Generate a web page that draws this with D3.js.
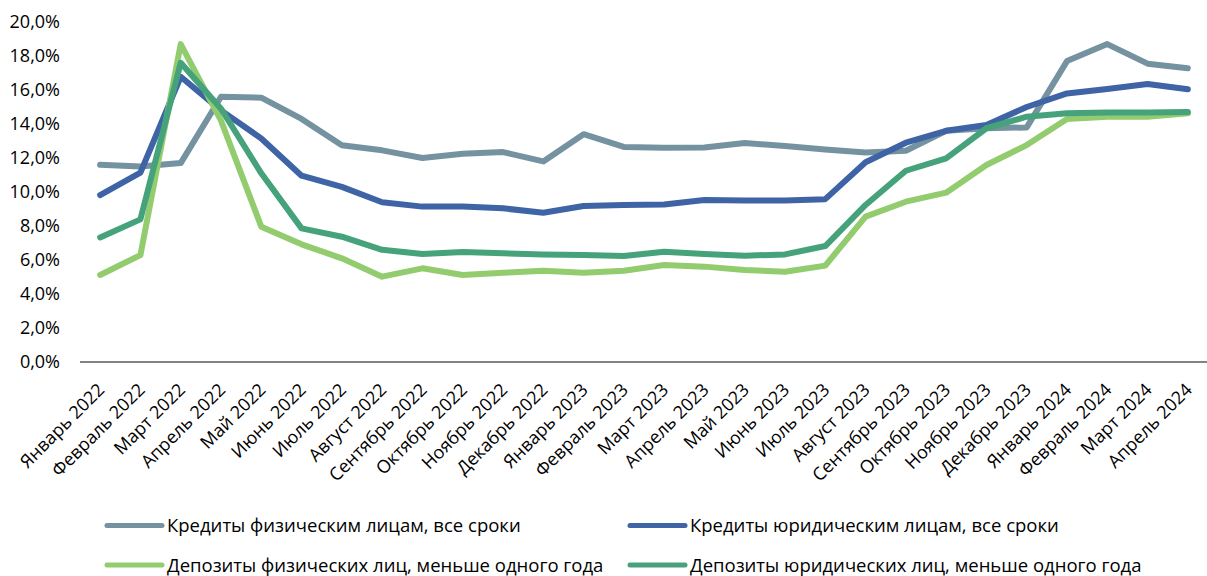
<!DOCTYPE html>
<html><head><meta charset="utf-8">
<script src="https://cdn.jsdelivr.net/npm/d3@7"></script>
<style>body{margin:0;background:#fff}svg{display:block}text{font-family:"Open Sans",sans-serif;fill:#000}</style>
</head><body><svg id="c" width="1207" height="576"></svg>
<script>
const months = ["Январь 2022","Февраль 2022","Март 2022","Апрель 2022","Май 2022","Июнь 2022","Июль 2022","Август 2022","Сентябрь 2022","Октябрь 2022","Ноябрь 2022","Декабрь 2022","Январь 2023","Февраль 2023","Март 2023","Апрель 2023","Май 2023","Июнь 2023","Июль 2023","Август 2023","Сентябрь 2023","Октябрь 2023","Ноябрь 2023","Декабрь 2023","Январь 2024","Февраль 2024","Март 2024","Апрель 2024"];
const yTicks = [0,2,4,6,8,10,12,14,16,18,20];
const seriesNames = ["Кредиты физическим лицам, все сроки","Кредиты юридическим лицам, все сроки","Депозиты физических лиц, меньше одного года","Депозиты юридических лиц, меньше одного года"];
const loansInd = [11.6,11.5,11.7,15.6,15.55,14.3,12.75,12.45,12.0,12.25,12.35,11.8,13.4,12.65,12.6,12.62,12.88,12.7,12.5,12.33,12.43,13.6,13.75,13.8,17.7,18.7,17.55,17.28];
const loansCorp = [9.82,11.14,16.78,14.8,13.15,10.96,10.3,9.4,9.14,9.14,9.04,8.78,9.18,9.24,9.27,9.53,9.5,9.5,9.58,11.75,12.9,13.6,13.94,15.0,15.8,16.06,16.35,16.04];
const depInd = [5.12,6.29,18.7,14.2,7.96,6.92,6.1,5.02,5.51,5.12,5.25,5.37,5.25,5.37,5.71,5.61,5.41,5.31,5.67,8.55,9.43,9.96,11.59,12.76,14.3,14.43,14.43,14.63];
const depCorp = [7.33,8.39,17.6,14.9,11.1,7.86,7.37,6.6,6.35,6.47,6.39,6.33,6.29,6.24,6.49,6.35,6.25,6.33,6.82,9.24,11.25,11.98,13.75,14.43,14.63,14.68,14.68,14.7];
const colors = ["#7592A0","#3E64A6","#92CC6E","#45A27A"];

const svg = d3.select("#c");
const x = d3.scalePoint().domain(months).range([80,1208]).padding(0.5);
const y = d3.scaleLinear().domain([0,20]).range([362,22]);

// y axis labels
const ya = svg.append("g").attr("transform","translate(60,0)")
  .call(d3.axisLeft(y).tickValues(yTicks).tickSize(0).tickPadding(0)
  .tickFormat(d=>d.toFixed(1).replace(".",",")+"%"));
ya.select(".domain").remove();
ya.selectAll("text").style("font-size","18px").style("font-family","'Open Sans',sans-serif").attr("fill","#000");

// x axis
const xa = svg.append("g").attr("transform","translate(0,362)")
  .call(d3.axisBottom(x).tickSize(0).tickPadding(0));
xa.select(".domain").attr("stroke","#7f8488").attr("stroke-width",2).attr("d","M80,0H1207");
xa.selectAll("text").style("font-size","18px").style("font-family","'Open Sans',sans-serif").attr("fill","#000")
  .attr("text-anchor","end").attr("dy",null).attr("y",0)
  .attr("transform","translate(5,29) rotate(-45)");

// lines
const data = [loansInd, loansCorp, depInd, depCorp];
const line = d3.line().x((d,i)=>x(months[i])).y(d=>y(d));
[0,1,2,3].forEach(k=>{
  svg.append("path").datum(data[k]).attr("d",line).attr("fill","none")
    .attr("stroke",colors[k]).attr("stroke-width",6).attr("stroke-linejoin","round").attr("stroke-linecap","round");
});

// legend
const leg = [{x:107,y:525.5},{x:630,y:525.5},{x:107,y:565},{x:630,y:565}];
leg.forEach((p,k)=>{
  svg.append("line").attr("x1",p.x).attr("x2",p.x+55).attr("y1",p.y).attr("y2",p.y)
    .attr("stroke",colors[k]).attr("stroke-width",5).attr("stroke-linecap","round");
  svg.append("text").attr("x",p.x+60).attr("y",p.y+6.5).style("font-size","18.5px").text(seriesNames[k]);
});
</script></body></html>
